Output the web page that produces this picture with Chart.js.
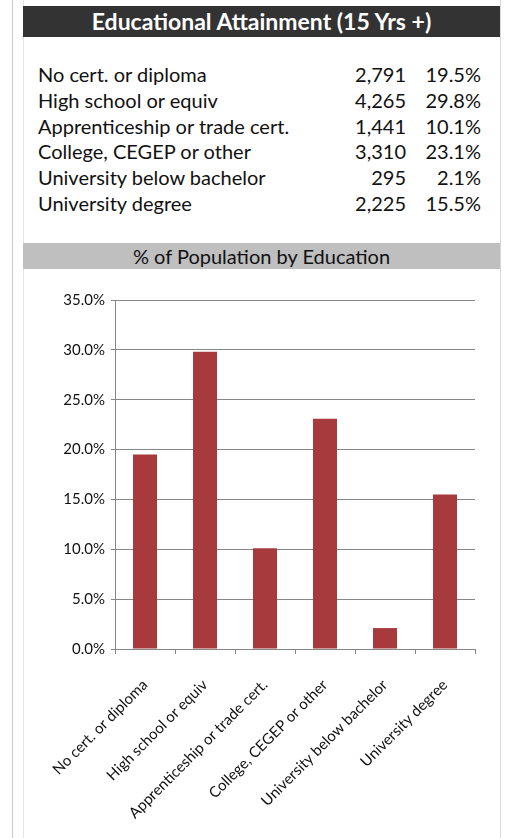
<!DOCTYPE html>
<html>
<head>
<meta charset="utf-8">
<script src="https://cdn.jsdelivr.net/npm/chart.js@4.4.1/dist/chart.umd.min.js"></script>
<style>
  html, body { margin: 0; padding: 0; background: #fff; }
  body { width: 507px; height: 838px; position: relative; overflow: hidden; font-family: Lato, "Open Sans", sans-serif; }
  .vline { position: absolute; top: 0; bottom: 0; width: 1px; }
  #head { position: absolute; left: 23px; top: 6px; width: 477px; height: 31px; background: #333333;
          color: #fff; font-weight: bold; font-size: 23px; line-height: 31px; text-align: center; }
  #sub { position: absolute; left: 23px; top: 243px; width: 477px; height: 26px; background: #bfbfbf;
         color: #111; font-size: 20px; line-height: 26px; text-align: center; }
  #tbl { position: absolute; left: 38px; top: 62px; width: 443px; }
  .row { position: relative; height: 25.8px; font-size: 20px; line-height: 25.8px; color: #111; }
  .row .n { position: absolute; right: 75px; top: 0; }
  .row .p { position: absolute; right: 0; top: 0; }
  #wrap { position: absolute; left: 0; top: 270px; width: 507px; height: 568px; }
</style>
</head>
<body>
<div class="vline" style="left:12px;background:#c8c8c8"></div>
<div class="vline" style="left:23px;background:#e4e4e4"></div>
<div class="vline" style="left:500px;background:#d8d8d8"></div>
<div id="head">Educational Attainment (15 Yrs +)</div>
<div id="tbl"></div>
<div id="sub">% of Population by Education</div>
<div id="wrap"><canvas id="c"></canvas></div>
<script>
const categories = ['No cert. or diploma', 'High school or equiv', 'Apprenticeship or trade cert.',
  'College, CEGEP or other', 'University below bachelor', 'University degree'];
const counts = [2791, 4265, 1441, 3310, 295, 2225];
const percents = [19.5, 29.8, 10.1, 23.1, 2.1, 15.5];

const tbl = document.getElementById('tbl');
categories.forEach((c, i) => {
  const r = document.createElement('div');
  r.className = 'row';
  r.innerHTML = '<span>' + c + '</span><span class="n">' + counts[i].toLocaleString('en-US') +
    '</span><span class="p">' + percents[i].toFixed(1) + '%</span>';
  tbl.appendChild(r);
});

const tickFont = { family: 'Lato, "Open Sans", sans-serif', size: 15 };
new Chart(document.getElementById('c'), {
  type: 'bar',
  data: {
    labels: categories,
    datasets: [{ data: percents, backgroundColor: '#a63a3c', barPercentage: 0.4, categoryPercentage: 1 }]
  },
  options: {
    responsive: true,
    maintainAspectRatio: false,
    animation: false,
    layout: { padding: { top: 30, right: 32, left: 0, bottom: 0 } },
    plugins: { legend: { display: false }, tooltip: { enabled: false } },
    scales: {
      x: {
        afterFit: s => { s.height = 189; },
        border: { color: '#868686' },
        grid: { offset: true, drawOnChartArea: false, tickLength: 5, color: '#868686' },
        ticks: { maxRotation: 45, minRotation: 45, color: '#111', font: tickFont, padding: 22, autoSkip: false }
      },
      y: {
        min: 0, max: 35,
        afterFit: s => { s.width = 115; },
        border: { color: '#868686' },
        grid: { color: '#868686', tickLength: 4 },
        ticks: { stepSize: 5, color: '#111', font: tickFont, padding: 6, callback: v => v.toFixed(1) + '%' }
      }
    }
  }
});
</script>
</body>
</html>
